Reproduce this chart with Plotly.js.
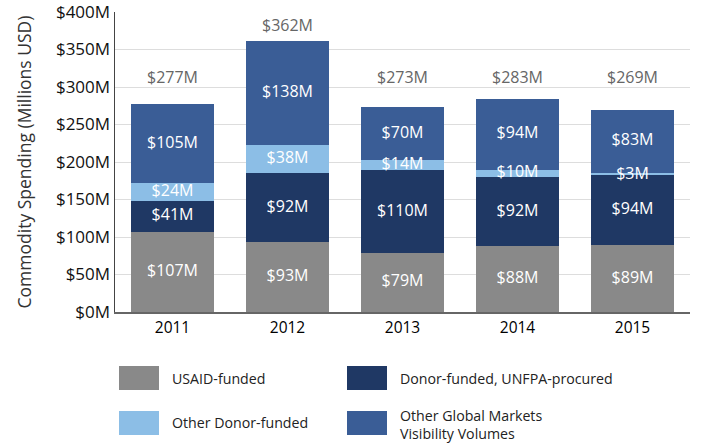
<!DOCTYPE html>
<html><head><meta charset="utf-8">
<script src="https://cdn.plot.ly/plotly-3.0.1.min.js"></script>
<style>html,body{margin:0;padding:0;background:#fff}#chart{width:728px;height:444px}</style>
</head><body><div id="chart"></div>
<script>
const years = ['2011','2012','2013','2014','2015'];
const usaid = [107, 93, 79, 88, 89];
const unfpa = [41, 92, 110, 92, 94];
const otherDonor = [24, 38, 14, 10, 3];
const globalMarkets = [105, 138, 70, 94, 83];
const totals = [277, 362, 273, 283, 269];
const seriesNames = ['USAID-funded','Donor-funded, UNFPA-procured','Other Donor-funded','Other Global Markets<br>Visibility Volumes'];
const colors = ['#898989','#1f3864','#8cbee6','#3a5d96'];

const series = [usaid, unfpa, otherDonor, globalMarkets];
const font = 'Open Sans, sans-serif';
const traces = [];
series.forEach((s,i)=>{
  traces.push({type:'bar', x:years, y:s, name:seriesNames[i], marker:{color:colors[i]}, hoverinfo:'skip', showlegend:false});
});
// segment labels at cumulative midpoints
const labX=[], labY=[], labT=[];
years.forEach((yr,j)=>{
  let base=0;
  series.forEach(s=>{
    labX.push(yr); labY.push(base + s[j]/2 - (s[j] < 5 ? 2 : 0)); labT.push('$'+s[j]+'M');
    base += s[j];
  });
});
traces.push({type:'scatter', mode:'text', x:labX, y:labY, text:labT, textfont:{family:font, size:16, color:'#ffffff'}, showlegend:false, hoverinfo:'skip', cliponaxis:false});
traces.push({type:'scatter', mode:'text', x:years, y:totals.map(t=>Math.max(311, t+18)), text:totals.map(t=>'$'+t+'M'), textfont:{family:font, size:16, color:'#666666'}, showlegend:false, hoverinfo:'skip', cliponaxis:false});

const L=115, R=38, T=12, B=132, W=728, H=444;
const pw=W-L-R, ph=H-T-B;
const px = v => (v-L)/pw, py = v => (H-B-v)/ph;
const shapes=[], annotations=[];
const legendPos = [[119,366,170,378],[347,366,398,378],[119,411,170,422],[347,411,398,424]];
seriesNames.forEach((n,i)=>{
  const [sx,sy,tx,ty]=legendPos[i];
  shapes.push({type:'rect', xref:'paper', yref:'paper', x0:px(sx), x1:px(sx+40), y0:py(sy+24), y1:py(sy), fillcolor:colors[i], line:{width:0}});
  annotations.push({xref:'paper', yref:'paper', x:px(tx), y:py(ty), xanchor:'left', yanchor:'middle', text:n, showarrow:false, align:'left', font:{family:font, size:14.2, color:'#222'}});
});

const layout = {
  width:W, height:H, margin:{l:L, r:R, t:T, b:B},
  paper_bgcolor:'#fff', plot_bgcolor:'#fff',
  barmode:'stack', bargap:0.28,
  font:{family:font, color:'#222'},
  showlegend:false,
  xaxis:{type:'category', tickfont:{family:font, size:15.5, color:'#000'}, showline:true, linecolor:'#666', linewidth:2, ticks:'', showgrid:false, fixedrange:true},
  yaxis:{range:[0,400], dtick:50, tickprefix:'$', ticksuffix:'M', tickfont:{family:font, size:17, color:'#111'}, ticklabeloverflow:'allow', gridcolor:'#dddddd', gridwidth:1, showline:true, linecolor:'#444', linewidth:1.5, zeroline:false, ticks:'', ticklen:0,
    title:{text:'Commodity Spending (Millions USD)', font:{family:font, size:17.5, color:'#333'}, standoff:20}},
  shapes:shapes, annotations:annotations
};
Plotly.newPlot('chart', traces, layout, {displayModeBar:false, staticPlot:true});
</script></body></html>
